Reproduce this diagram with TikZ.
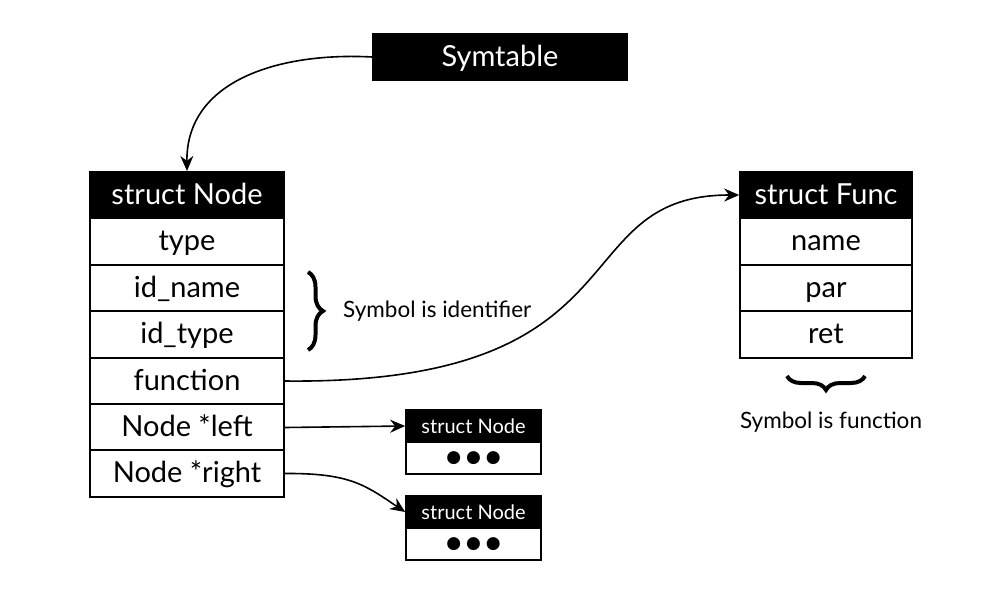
\documentclass[tikz,border=0pt]{standalone}
\usepackage{fontspec}
\setmainfont{Lato}
\newfontfamily\dv{DejaVu Sans}
\usetikzlibrary{arrows.meta,decorations.pathreplacing}
\begin{document}
\begin{tikzpicture}[x=1pt,y=-1pt,
  hdr/.style={rectangle,draw=black,fill=black,text=white,line width=1.6pt,minimum height=46.5pt,inner sep=0pt,text height=22pt,text depth=4pt,font=\fontsize{29}{32}\selectfont},
  row/.style={rectangle,draw=black,fill=white,line width=1.6pt,minimum height=46.5pt,inner sep=0pt,text height=22pt,text depth=4pt,font=\fontsize{29}{32}\selectfont},
  shdr/.style={rectangle,draw=black,fill=black,text=white,line width=1.6pt,minimum width=135pt,minimum height=32pt,inner sep=0pt,font=\fontsize{20}{22}\selectfont},
  srow/.style={rectangle,draw=black,fill=white,line width=1.6pt,minimum width=135pt,minimum height=32pt,inner sep=0pt,font=\dv\fontsize{17}{20}\selectfont},
  conn/.style={line width=1.6pt,-{Stealth[length=15pt,width=13pt]}},
  note/.style={font=\fontsize{22.5}{26}\selectfont,inner sep=0pt},
  brc/.style={line width=4pt,decorate}
]
\useasboundingbox (0,0) rectangle (1000,595);

\node[hdr,minimum width=254pt,minimum height=47pt] (sym) at (500,57) {Symtable};

\node[hdr,minimum width=194pt] (nh) at (187,195) {struct Node};
\node[row,minimum width=194pt] (ntype) at (187,241.5) {type};
\node[row,minimum width=194pt] (nidn) at (187,288) {id\_name};
\node[row,minimum width=194pt] (nidt) at (187,334.5) {id\_type};
\node[row,minimum width=194pt] (nfun) at (187,381) {function};
\node[row,minimum width=194pt] (nleft) at (187,427.5) {Node *left};
\node[row,minimum width=194pt] (nright) at (187,473.5) {Node *right};

\node[hdr,minimum width=172pt] (fh) at (826,195) {struct Func};
\node[row,minimum width=172pt] (fname) at (826,241.5) {name};
\node[row,minimum width=172pt] (fpar) at (826,288) {par};
\node[row,minimum width=172pt] (fret) at (826,334.5) {ret};

\node[shdr] (l1h) at (473.5,426) {struct Node};
\node[srow] (l1r) at (473.5,458) {●\kern5pt●\kern5pt●};
\node[shdr] (l2h) at (473.5,512) {struct Node};
\node[srow] (l2r) at (473.5,544) {●\kern5pt●\kern5pt●};

\coordinate (b1a) at (308,350);
\coordinate (b1b) at (308,272);
\draw[brc,decoration={brace,amplitude=15pt}] (b1b) -- (b1a);
\node[note,anchor=west] (idn) at (343,311) {Symbol is identifier};

\coordinate (b2a) at (787,376);
\coordinate (b2b) at (865,376);
\draw[brc,decoration={brace,amplitude=14pt,mirror}] (b2a) -- (b2b);
\node[note] (fnote) at (831,422) {Symbol is function};

\draw[conn] (sym.west) .. controls (280,52) and (186,80) .. (nh.north);
\draw[conn] (nfun.east) .. controls (650,385) and (560,195) .. (fh.west);
\draw[conn] (nleft.east) -- (l1h.west);
\draw[conn] (nright.east) .. controls (350,473) and (365,485) .. (l2h.west);
\end{tikzpicture}
\end{document}
